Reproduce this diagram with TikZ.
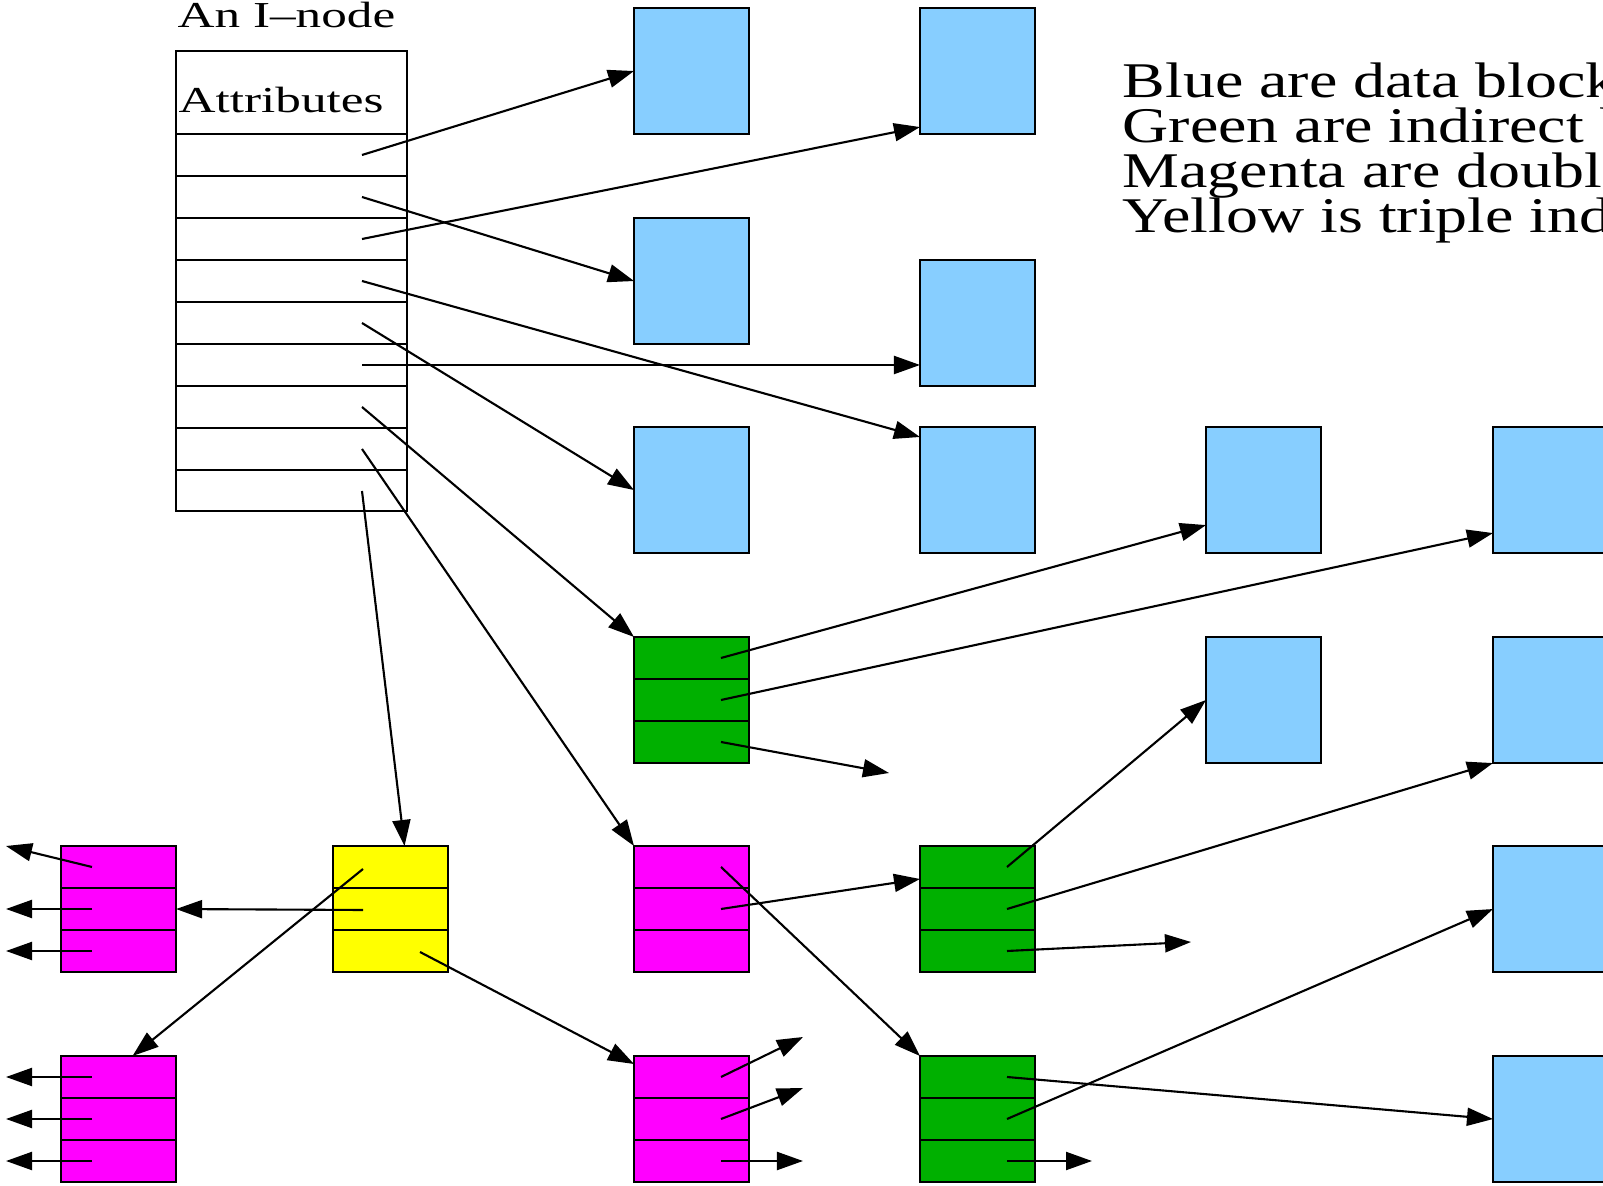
\documentclass[tikz,border=0pt]{standalone}
\usepackage{fontspec}
\setmainfont{Liberation Serif}
\newfontfamily\legendfont[FakeStretch=1.28]{Liberation Serif}
\newfontfamily\inodefont[FakeStretch=1.4]{Liberation Serif}
\usepackage{tikz}
\usetikzlibrary{calc}
\usetikzlibrary{arrows.meta}

\definecolor{datablue}{HTML}{87CEFF}
\definecolor{indgreen}{HTML}{00B000}
\definecolor{dblmagenta}{HTML}{FF00FF}
\definecolor{tplyellow}{HTML}{FFFF00}

\begin{document}
\begin{tikzpicture}[x = 0.01cm, y = -0.01cm,
		blk/.style = {draw, line width = 0.6pt, anchor = north west, inner sep = 0pt, outer sep = 0pt, minimum width = 1.15cm, minimum height = 1.26cm},
		ptr/.style = {line width = 0.6pt, -{Triangle[length = 0.26cm, width = 0.18cm]}},
		txt/.style = {anchor = base west, inner sep = 0pt}]
	\path[use as bounding box, clip] (0, 0) rectangle (1603, 1186);

	% the i-node
	\node[draw, line width = 0.6pt, anchor = north west, inner sep = 0pt, minimum width = 2.31cm, minimum height = 4.6cm](inode) at (175, 50){};
	\foreach \k in {0, ..., 8}
		\draw[line width = 0.6pt] ($(inode.north west)+(0, 84+42*\k)$)--($(inode.north east)+(0, 84+42*\k)$);
	\foreach \k in {1, ..., 9}
		\coordinate[](inode-\k) at ($(inode.north west)+(187, 63+42*\k)$);
	\node[txt, font = \inodefont\fontsize{10.4}{12}\selectfont](title) at (177, 28){An I–node};
	\node[txt, font = \inodefont\fontsize{10.4}{12}\selectfont](attr) at (178, 113){Attributes};

	% data blocks
	\node[blk, fill = datablue](data00) at (634, 8){};
	\node[blk, fill = datablue](data01) at (634, 218){};
	\node[blk, fill = datablue](data02) at (634, 427){};
	\node[blk, fill = datablue](data10) at (920, 8){};
	\node[blk, fill = datablue](data11) at (920, 260){};
	\node[blk, fill = datablue](data12) at (920, 427){};
	\node[blk, fill = datablue](data22) at (1206, 427){};
	\node[blk, fill = datablue](data23) at (1206, 637){};
	\node[blk, fill = datablue](data32) at (1493, 427){};
	\node[blk, fill = datablue](data33) at (1493, 637){};
	\node[blk, fill = datablue](data34) at (1493, 846){};
	\node[blk, fill = datablue](data35) at (1493, 1056){};

	% pointer blocks
	\node[blk, fill = indgreen](ind03) at (634, 637){};
	\node[blk, fill = indgreen](ind14) at (920, 846){};
	\node[blk, fill = indgreen](ind15) at (920, 1056){};
	\node[blk, fill = dblmagenta](dbl04) at (634, 846){};
	\node[blk, fill = dblmagenta](dbl05) at (634, 1056){};
	\node[blk, fill = dblmagenta](dblL4) at (61, 846){};
	\node[blk, fill = dblmagenta](dblL5) at (61, 1056){};
	\node[blk, fill = tplyellow](tpl) at (333, 846){};
	\foreach \b in {ind03, ind14, ind15, dbl04, dbl05, dblL4, dblL5, tpl}{
		\draw[line width = 0.6pt] ($(\b.north west)+(0, 42)$)--($(\b.north east)+(0, 42)$);
		\draw[line width = 0.6pt] ($(\b.north west)+(0, 84)$)--($(\b.north east)+(0, 84)$);
	}
	\foreach \b in {ind03, ind14, ind15, dbl04, dbl05}
		\foreach \k in {1, 2, 3}
			\coordinate[](\b-\k) at ($(\b.north west)+(87, 42*\k-21)$);
	\foreach \b in {dblL4, dblL5}
		\foreach \k in {1, 2, 3}
			\coordinate[](\b-\k) at ($(\b.north west)+(31, 42*\k-21)$);
	\coordinate[](tpl-1) at ($(tpl.north west)+(30, 23)$);
	\coordinate[](tpl-2) at ($(tpl.north west)+(30, 64)$);
	\coordinate[](tpl-3) at ($(tpl.north west)+(87, 106)$);

	% loose ends
	\coordinate[](edge) at (6, 0);
	\coordinate[](free-i03) at (889, 773);
	\coordinate[](free-i14) at (1191, 942);
	\coordinate[](free-i15) at (1092, 1161);
	\coordinate[](free-d5a) at (803, 1037);
	\coordinate[](free-d5b) at (803, 1088);
	\coordinate[](free-d5c) at (803, 1161);

	\draw[ptr] (inode-1)--(data00.west);
	\draw[ptr] (inode-2)--(data01.west);
	\draw[ptr] (inode-3)--($(data10.south west)+(0, -7)$);
	\draw[ptr] (inode-4)--($(data12.north west)+(0, 10)$);
	\draw[ptr] (inode-5)--(data02.west);
	\draw[ptr] (inode-6)--(inode-6 -| data11.west);
	\draw[ptr] (inode-7)--(ind03.north west);
	\draw[ptr] (inode-8)--(dbl04.north west);
	\draw[ptr] (inode-9)--($(tpl.north)+(14, 0)$);

	\draw[ptr] (ind03-1)--($(data22.south west)+(0, -28)$);
	\draw[ptr] (ind03-2)--($(data32.south west)+(0, -20)$);
	\draw[ptr] (ind03-3)--(free-i03);

	\draw[ptr] (dbl04-1)--(ind15.north west);
	\draw[ptr] (dbl04-2)--($(ind14.north west)+(0, 33)$);

	\draw[ptr] (ind14-1)--(data23.west);
	\draw[ptr] (ind14-2)--(data33.south west);
	\draw[ptr] (ind14-3)--(free-i14);

	\draw[ptr] (ind15-1)--(data35.west);
	\draw[ptr] (ind15-2)--(data34.west);
	\draw[ptr] (ind15-3)--(free-i15);

	\draw[ptr] (tpl-1)--($(dblL5.north)+(14, 0)$);
	\draw[ptr] (tpl-2)--(dblL4.east);
	\draw[ptr] (tpl-3)--($(dbl05.north west)+(0, 8)$);

	\draw[ptr] (dblL4-1)--(edge |- dblL4.north);
	\draw[ptr] (dblL4-2)--(edge |- dblL4-2);
	\draw[ptr] (dblL4-3)--(edge |- dblL4-3);
	\draw[ptr] (dblL5-1)--(edge |- dblL5-1);
	\draw[ptr] (dblL5-2)--(edge |- dblL5-2);
	\draw[ptr] (dblL5-3)--(edge |- dblL5-3);

	\draw[ptr] (dbl05-1)--(free-d5a);
	\draw[ptr] (dbl05-2)--(free-d5b);
	\draw[ptr] (dbl05-3)--(free-d5c);

	% legend
	\node[txt, font = \legendfont\fontsize{14.2}{13}\selectfont](leg1) at (1122, 98){Blue are data blocks};
	\node[txt, font = \legendfont\fontsize{14.2}{13}\selectfont](leg2) at (1122, 143){Green are indirect blocks};
	\node[txt, font = \legendfont\fontsize{14.2}{13}\selectfont](leg3) at (1122, 188){Magenta are double indirect blocks};
	\node[txt, font = \legendfont\fontsize{14.2}{13}\selectfont](leg4) at (1122, 233){Yellow is triple indirect block};
\end{tikzpicture}
\end{document}
